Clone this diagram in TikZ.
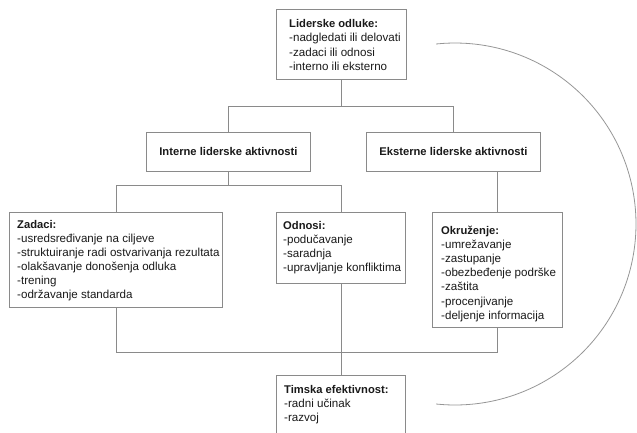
\documentclass[tikz,border=0pt]{standalone}
\usepackage{fontspec}
\setmainfont{Liberation Sans}
\usetikzlibrary{calc}
\definecolor{linegray}{HTML}{8A8A8A}
\definecolor{txtcol}{HTML}{1A1A1A}
\newcommand{\hd}[1]{{\fontsize{11.2}{14.1}\selectfont\bfseries #1}}
\tikzset{
  box/.style={draw=linegray, line width=0.9pt, fill=white, rectangle, inner sep=0pt, anchor=north west},
  txt/.style={anchor=north west, inner sep=0pt, align=left, text=txtcol, font=\fontsize{11.6}{14.1}\selectfont},
  head/.style={text=txtcol, font=\fontsize{11.2}{14.1}\selectfont\bfseries},
  conn/.style={draw=linegray, line width=0.9pt},
  ring/.style={draw=linegray!90, line width=0.8pt}
}
\begin{document}
\begin{tikzpicture}[x=1pt,y=-1pt]
\useasboundingbox (0,0) rectangle (637,432);
\clip (0,0) rectangle (637,432);
% arc
\draw[ring, domain=-96:96, samples=80, smooth] plot ({455+181*cos(\x)}, {224+181*sin(\x)});
% boxes
\node[box, minimum width=130, minimum height=70] (top) at (276,9) {};
\node[box, minimum width=164, minimum height=39, head] (int) at (146,132) {Interne liderske aktivnosti};
\node[box, minimum width=174, minimum height=39, head] (ext) at (366,132) {Eksterne liderske aktivnosti};
\node[box, minimum width=213, minimum height=95] (zad) at (9,212) {};
\node[box, minimum width=129, minimum height=71] (odn) at (276,212) {};
\node[box, minimum width=130, minimum height=115] (okr) at (432,212) {};
\node[box, minimum width=129, minimum height=70] (tim) at (276,375) {};
% texts
\node[txt] (topt) at (289,19.5) {\hd{Liderske odluke:}\\-nadgledati ili delovati\\-zadaci ili odnosi\\-interno ili eksterno};
\node[txt] (zadt) at (17,220) {\hd{Zadaci:}\\-usredsređivanje na ciljeve\\-struktuiranje radi ostvarivanja rezultata\\-olakšavanje donošenja odluka\\-trening\\-održavanje standarda};
\node[txt] (odnt) at (283,221) {\hd{Odnosi:}\\-podučavanje\\-saradnja\\-upravljanje konfliktima};
\node[txt] (okrt) at (441,226) {\hd{Okruženje:}\\-umrežavanje\\-zastupanje\\-obezbeđenje podrške\\-zaštita\\-procenjivanje\\-deljenje informacija};
\node[txt] (timt) at (284,385) {\hd{Timska efektivnost:}\\-radni učinak\\-razvoj};
% junctions
\coordinate (j1) at (341,106);
\coordinate (j2) at (228,185);
\coordinate (j3) at (340,352);
% connectors
\draw[conn] (top.south) -- (top.south |- j1);
\draw[conn] (int.north) -- (int.north |- j1) -- (ext.north |- j1) -- (ext.north);
\draw[conn] (int.south) -- (int.south |- j2);
\draw[conn] (zad.north) -- (zad.north |- j2) -- (odn.north |- j2) -- (odn.north);
\draw[conn] (okr.north) -- (okr.north |- ext.south);
\draw[conn] (odn.south) -- (tim.north);
\draw[conn] (zad.south) -- (zad.south |- j3) -- (okr.south |- j3) -- (okr.south);
\end{tikzpicture}
\end{document}
